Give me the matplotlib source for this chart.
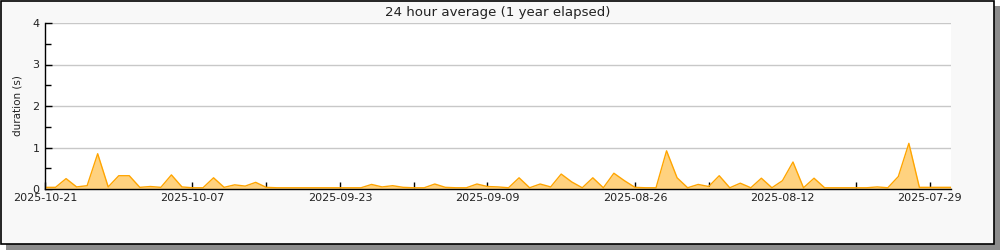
#24 hour average duration chart
import numpy as np
import pandas as pd
import matplotlib
matplotlib.use('Agg')
import matplotlib.pyplot as plt
from matplotlib.patches import Rectangle

TITLE = '24 hour average (1 year elapsed)'
YLABEL = 'duration (s)'
START_DATE = '2025-10-21'                                   #newest day, drawn on the left
END_DATE = '2025-07-27'                                     #oldest day, drawn on the right

#daily average duration in seconds, newest first
durations = [0.04, 0.04, 0.25, 0.05, 0.08, 0.85, 0.05, 0.32, 0.32, 0.04,
             0.06, 0.04, 0.34, 0.05, 0.03, 0.03, 0.27, 0.04, 0.10, 0.07,
             0.16, 0.04, 0.03, 0.03, 0.03, 0.03, 0.03, 0.03, 0.03, 0.03,
             0.03, 0.11, 0.05, 0.08, 0.04, 0.03, 0.03, 0.12, 0.04, 0.03,
             0.03, 0.12, 0.06, 0.05, 0.03, 0.27, 0.03, 0.12, 0.05, 0.36,
             0.17, 0.03, 0.27, 0.03, 0.38, 0.20, 0.04, 0.03, 0.03, 0.92,
             0.27, 0.03, 0.11, 0.06, 0.32, 0.03, 0.14, 0.03, 0.26, 0.03,
             0.20, 0.65, 0.03, 0.26, 0.03, 0.03, 0.03, 0.03, 0.03, 0.05,
             0.03, 0.30, 1.10, 0.04, 0.04, 0.04, 0.04]
days = pd.date_range(end=START_DATE, periods=len(durations), freq='D')[::-1]

yticks = [0, 1, 2, 3, 4]
FONT = 8

fig = plt.figure(figsize=(10, 2.5), dpi=100)
fig.patch.set_facecolor('white')

#framed panel with drop shadow
fig.patches.append(Rectangle((0.006, 0.0), 0.994, 0.976, transform=fig.transFigure,
                             facecolor='#8c8c8c', edgecolor='none', zorder=-3))
fig.patches.append(Rectangle((0.0005, 0.024), 0.9935, 0.974, transform=fig.transFigure,
                             facecolor='#f8f8f8', edgecolor='black', linewidth=1.2, zorder=-2))

ax = fig.add_axes([0.045, 0.244, 0.906, 0.664])
ax.set_facecolor('white')
ax.fill_between(days, durations, 0, color='#ffd27f', linewidth=0, zorder=2)
ax.plot(days, durations, color='#ffa500', linewidth=1, zorder=3)

ax.set_xlim(pd.Timestamp(START_DATE), pd.Timestamp(END_DATE))
ax.set_ylim(0, 4)
ax.set_yticks(yticks)
ax.set_yticks(np.arange(0.5, 4, 1.0), minor=True)
ax.yaxis.grid(True, which='major', color='#c8c8c8', linewidth=1, zorder=0)

major = pd.date_range(start=START_DATE, end=END_DATE, freq='-7D')
ax.set_xticks(major)
ax.set_xticklabels([d.strftime('%Y-%m-%d') if i % 2 == 0 else '' for i, d in enumerate(major)])

ax.tick_params(axis='both', direction='in', length=5, width=1, color='black',
               labelsize=FONT, labelcolor='#222222', pad=2)
ax.tick_params(axis='y', which='minor', direction='in', length=4, width=1)
ax.tick_params(axis='y', pad=4)
ax.tick_params(axis='x', pad=3)

for side in ['top', 'right']:
    ax.spines[side].set_visible(False)
for side in ['left', 'bottom']:
    ax.spines[side].set_linewidth(1)
    ax.spines[side].set_zorder(4)

ax.set_title(TITLE, fontsize=9.6, pad=5, color='#222222')
ax.set_ylabel(YLABEL, fontsize=7.5, labelpad=7, color='#222222')

fig.savefig('out.png', dpi=100)
